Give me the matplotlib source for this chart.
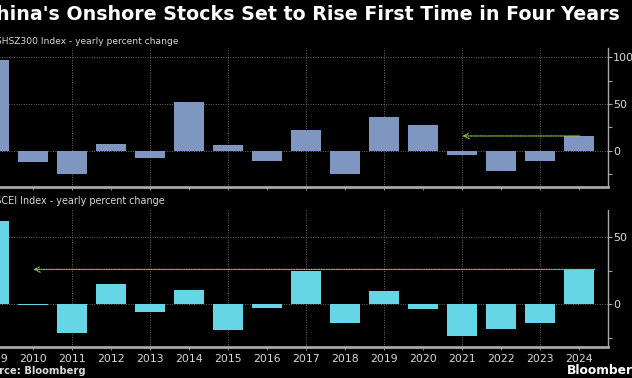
import matplotlib
matplotlib.use("Agg")
import matplotlib.pyplot as plt
import numpy as np

# yearly percent changes
years = list(range(2009, 2025))
csi300 = [96.7, -12.5, -25.0, 7.6, -7.6, 51.7, 5.6, -11.3, 21.8, -25.3,
          36.1, 27.2, -5.2, -21.6, -11.4, 15.7]
hscei = [62.1, -0.8, -21.7, 15.1, -5.4, 10.8, -19.4, -2.8, 24.6, -13.5,
         10.3, -3.8, -23.3, -18.6, -13.8, 26.1]

top_ticks = [0, 50, 100]
bot_ticks = [0, 50]

BG = "black"
GRID = "#6a6a6a"
SPINE = "#a8a8a8"
TXT = "#d8d8d8"
ARROW = "#8cc63f"


def style_axis(ax, ylim, major, minor):
    ax.set_facecolor(BG)
    ax.set_xlim(2008.27, 2024.73)
    ax.set_ylim(*ylim)
    for s in ["top", "left"]:
        ax.spines[s].set_visible(False)
    ax.spines["right"].set_color(SPINE)
    ax.spines["right"].set_linewidth(1.0)
    ax.spines["bottom"].set_color(SPINE)
    ax.spines["bottom"].set_linewidth(2.0)
    ax.yaxis.tick_right()
    ax.set_yticks(major)
    ax.set_yticks(minor, minor=True)
    ax.tick_params(axis="y", which="both", colors=SPINE, labelcolor=TXT,
                   labelsize=8, length=3, width=0.8, pad=1)
    ax.set_xticks(years)
    ax.tick_params(axis="x", colors=SPINE, labelcolor=TXT, labelsize=7.8,
                   length=2, width=0.6, pad=3)
    for y in major:
        ax.axhline(y, color=GRID, lw=0.7, ls=(0, (1, 1.5)), zorder=1)
    for x in range(2009, 2025, 2):
        ax.axvline(x, color=GRID, lw=0.7, ls=(0, (1, 1.5)), zorder=1)


fig = plt.figure(figsize=(6.32, 3.78), dpi=100, facecolor=BG)

ax1 = fig.add_axes([-0.0541, 0.5053, 1.0157, 0.3677])
style_axis(ax1, (-39, 110), top_ticks, [-25, 25, 75])
ax1.bar(years, csi300, width=0.78, color="#7f97c0", zorder=2)
ax1.tick_params(axis="x", labelbottom=False)
ax1.annotate("", xy=(2021, csi300[-1]), xytext=(2024, csi300[-1]),
             arrowprops=dict(arrowstyle="->", color=ARROW, lw=0.9,
                             ls=(0, (1, 1)), shrinkA=0, shrinkB=0),
             zorder=3)

ax2 = fig.add_axes([-0.0541, 0.0812, 1.0157, 0.3632])
style_axis(ax2, (-32, 70.4), bot_ticks, [-25, 25])
ax2.bar(years, hscei, width=0.78, color="#66d5e6", zorder=2)
ax2.annotate("", xy=(2010, hscei[-1]), xytext=(2024.4, hscei[-1]),
             arrowprops=dict(arrowstyle="->", color=ARROW, lw=0.9,
                             ls=(0, (1, 1)), shrinkA=0, shrinkB=0),
             zorder=3)

# titles and notes (left side is cut off in the original)
fig.text(620 / 632, 1 - 20 / 378,
         "China's Onshore Stocks Set to Rise First Time in Four Years",
         ha="right", va="baseline", color="white", fontsize=13.7,
         fontweight="bold")
fig.text(178 / 632, 1 - 43.5 / 378, "SHSZ300 Index - yearly percent change",
         ha="right", va="baseline", color=TXT, fontsize=6.6)
fig.text(165 / 632, 1 - 203.5 / 378, "HSCEI Index - yearly percent change",
         ha="right", va="baseline", color=TXT, fontsize=6.9)
fig.text(86 / 632, 1 - 374 / 378, "Source: Bloomberg",
         ha="right", va="baseline", color=TXT, fontsize=7.2, fontweight="bold")
fig.text(567 / 632, 1 - 374 / 378, "Bloomberg",
         ha="left", va="baseline", color="white", fontsize=8.8,
         fontweight="bold")

fig.savefig("out.png", dpi=100, facecolor=BG)
